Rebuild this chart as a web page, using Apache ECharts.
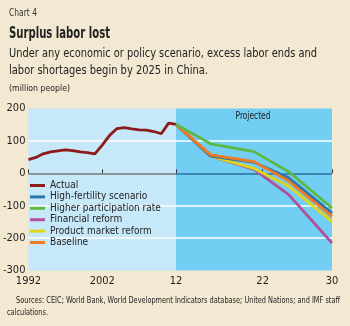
<!DOCTYPE html>
<html><head><meta charset="utf-8">
<script src="https://cdn.jsdelivr.net/npm/echarts@6/dist/echarts.min.js"></script>
<style>html,body{margin:0;padding:0;background:#f3e9d2;}#c{width:350px;height:326px;}</style>
</head><body><div id="c"></div>
<script>
const FONT = '"DejaVu Sans Condensed","Liberation Sans",sans-serif';
const histYears = [1992,1993,1994,1995,1996,1997,1998,1999,2000,2001,2002,2003,2004,2005,2006,2007,2008,2009,2010,2011,2012];
const actual = [42,49,60,66,69,72,70,66,64,60,87,117,138,141,137,134,133,129,122,155,151];
const projYears = [2012,2016,2021,2025,2030];
const highFertility = [151,53,34,-14,-123];
const higherParticipation = [151,91,67,5,-107];
const financialReform = [151,53,12,-66,-215];
const productMarketReform = [151,53,15,-40,-149];
const baseline = [151,57,36,-24,-133];
const histTicks = [1992,2002,2012];
const projTicks = [2022,2030];

const colors = {
  'Actual':'#8e1b1b','High-fertility scenario':'#2f74ac','Higher participation rate':'#5cb946',
  'Financial reform':'#b3509c','Product market reform':'#dcd61c','Baseline':'#f07b22'
};
function pairs(xs, ys){ return xs.map((x,i)=>[x,ys[i]]); }
function line(name, xi, data, z){
  return {name, type:'line', xAxisIndex:xi, yAxisIndex:xi, data, symbol:'none', z:z||2,
    lineStyle:{width:2.8, color:colors[name]}, itemStyle:{color:colors[name]}, animation:false};
}
const ctx = document.createElement('canvas').getContext('2d');
function fitText(text, x, y, font, width, color){
  ctx.font = font;
  const w = ctx.measureText(text).width;
  return {type:'text', x:x, y:y, scaleX: width / w, originX:0, originY:0,
    style:{text, fill:color||'#222', font, textVerticalAlign:'top', textAlign:'left'}};
}
const chart = echarts.init(document.getElementById('c'));
const yBase = {type:'value', min:-300, max:200, interval:100, axisLine:{show:false}, axisTick:{show:false}};
chart.setOption({
  backgroundColor:'#f3e9d2',
  animation:false,
  grid:[
    {left:25, top:108.5, width:151, height:162, show:true, backgroundColor:'#c6e8f8', borderWidth:0},
    {left:176, top:108.5, width:156, height:162, show:true, backgroundColor:'#72cef2', borderWidth:0}
  ],
  xAxis:[
    {type:'value', gridIndex:0, min:1992, max:2012, axisLine:{show:false}, splitLine:{show:false},
     axisTick:{show:true, inside:true, length:4, customValues:histTicks, lineStyle:{color:'#333', width:1}},
     axisLabel:{customValues:histTicks, color:'#1e1e1e', fontFamily:FONT, fontSize:11, margin:5,
       formatter:v=> v===2012 ? '12' : String(v)}},
    {type:'value', gridIndex:1, min:2012, max:2030, axisLine:{show:false}, splitLine:{show:false},
     axisTick:{show:true, inside:true, length:4, customValues:projTicks, lineStyle:{color:'#333', width:1}},
     axisLabel:{customValues:projTicks, color:'#1e1e1e', fontFamily:FONT, fontSize:11, margin:5,
       formatter:v=> String(v).slice(2)}}
  ],
  yAxis:[
    Object.assign({}, yBase, {gridIndex:0,
      splitLine:{show:true, lineStyle:{width:1.5, color:['rgba(0,0,0,0)','#ffffff','#ffffff','#7a7a7a','#ffffff','rgba(0,0,0,0)']}},
      axisLabel:{color:'#1e1e1e', fontFamily:FONT, fontSize:11, margin:3}}),
    Object.assign({}, yBase, {gridIndex:1,
      splitLine:{show:true, lineStyle:{width:1.5, color:['rgba(0,0,0,0)','#ffffff','#ffffff','#2c6d9c','#ffffff','rgba(0,0,0,0)']}},
      axisLabel:{show:false}})
  ],
  legend:{
    orient:'vertical', left:30, top:180, padding:0, itemWidth:15, itemHeight:3, itemGap:0.4, icon:'rect',
    data:['Actual','High-fertility scenario','Higher participation rate','Financial reform','Product market reform','Baseline'],
    textStyle:{color:'#1e1e1e', fontFamily:FONT, fontSize:10, lineHeight:11},
    selectedMode:false
  },
  graphic:[
    fitText('Chart 4', 9, 8, '10px '+FONT, 28, '#333'),
    fitText('Surplus labor lost', 9, 27, 'bold 15px '+FONT, 101),
    fitText('Under any economic or policy scenario, excess labor ends and', 9, 47, '13px '+FONT, 308),
    fitText('labor shortages begin by 2025 in China.', 9, 64, '13px '+FONT, 199),
    fitText('(million people)', 9, 84, '9.5px '+FONT, 61),
    fitText('Projected', 235.5, 111, '10.5px '+FONT, 35),
    fitText('Sources: CEIC; World Bank, World Development Indicators database; United Nations; and IMF staff', 16, 296, '8.5px '+FONT, 324),
    fitText('calculations.', 7, 308, '8.5px '+FONT, 41)
  ],
  series:[
    line('Actual',0,pairs(histYears,actual),5),
    line('High-fertility scenario',1,pairs(projYears,highFertility),4),
    line('Higher participation rate',1,pairs(projYears,higherParticipation),6),
    line('Financial reform',1,pairs(projYears,financialReform),2),
    line('Product market reform',1,pairs(projYears,productMarketReform),3),
    line('Baseline',1,pairs(projYears,baseline),5)
  ]
});
</script></body></html>
